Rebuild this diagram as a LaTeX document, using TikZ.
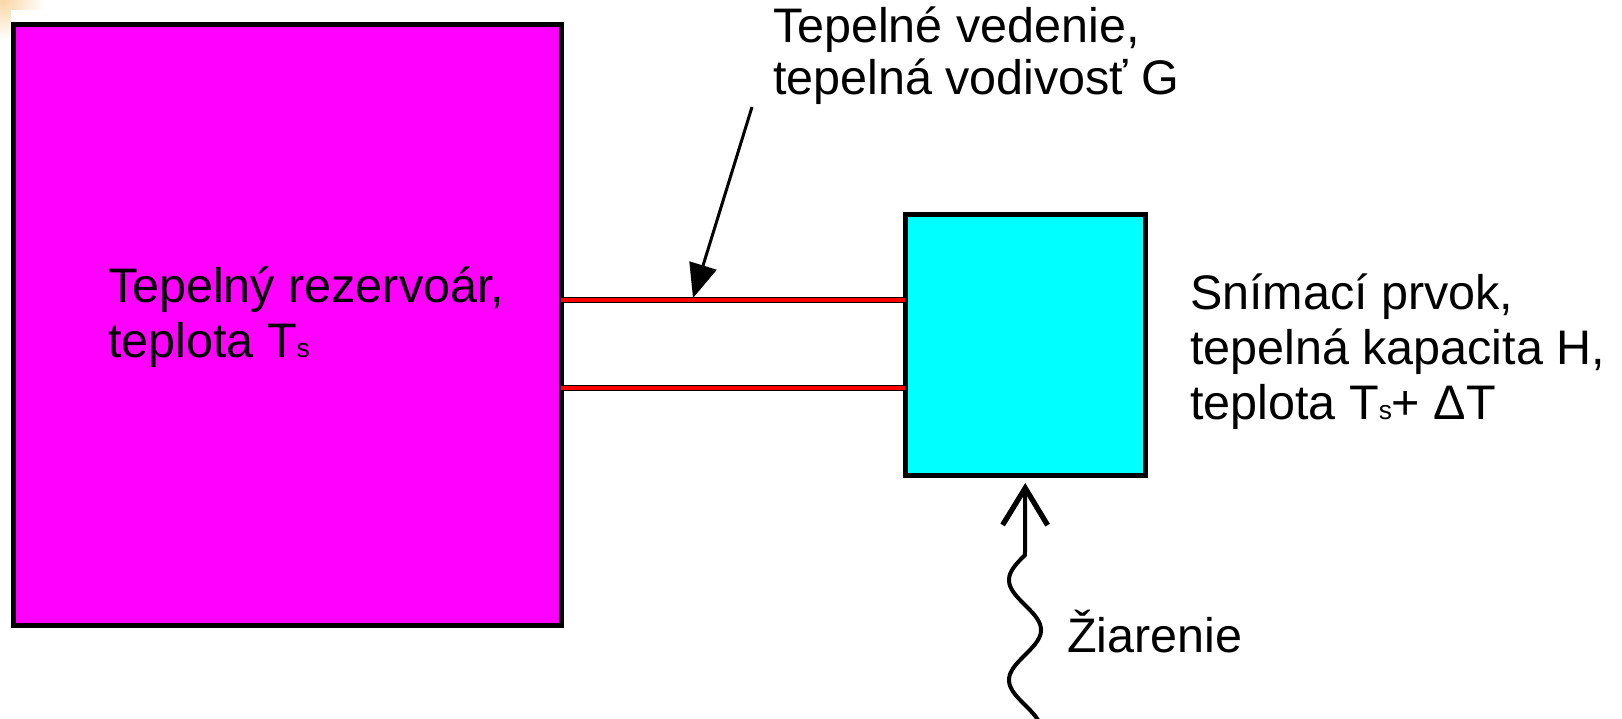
\documentclass[tikz,border=0pt]{standalone}
\usepackage{fontspec}
\setmainfont{Liberation Sans}
\usetikzlibrary{arrows.meta}
\definecolor{resmag}{RGB}{255,0,255}
\definecolor{sencyan}{RGB}{0,255,255}
\definecolor{rodred}{RGB}{255,0,0}
\definecolor{cornerorange}{RGB}{250,215,165}
\newcommand{\smallsub}[1]{{\fontsize{7.5}{7.5}\selectfont #1}}
\tikzset{
  boxstyle/.style={draw=black, line width=0.5mm, inner sep=0pt, outer sep=0pt},
  lbl/.style={inner sep=0pt, outer sep=0pt, align=left, anchor=base west, font=\fontsize{13.8}{15.65}\selectfont},
  rodline/.style={preaction={draw=black, line width=0.55mm}, draw=rodred, line width=0.4mm},
  ptr/.style={draw=black, line width=0.3mm, -{Triangle[length=3.4mm, width=2.8mm]}},
  rad/.style={draw=black, line width=0.4mm, -{Straight Barb[length=3.7mm, width=4.5mm, line width=1.5pt]}}
}
\begin{document}
\begin{tikzpicture}[x=0.1mm, y=-0.1mm]
\useasboundingbox (0,0) rectangle (1622,719);
% background corner
\fill[white] (0,0) rectangle (1622,719);
\shade[inner color=cornerorange, outer color=white] (-40,-40) rectangle (45,40);
\fill[white] (11,10) rectangle (1622,719);

% boxes
\node[boxstyle, fill=resmag, minimum width=54.8mm, minimum height=60mm] (res) at (287,325) {};
\node[boxstyle, fill=sencyan, minimum width=24.05mm, minimum height=26.1mm] (sen) at (1025.25,345.5) {};

% rods
\coordinate (l1) at (0,300);
\coordinate (l2) at (0,388);
\draw[rodline] (res.east |- l1) -- (sen.west |- l1);
\draw[rodline] (res.east |- l2) -- (sen.west |- l2);

% labels (anchored at the baseline of the last line)
\node[lbl, font=\fontsize{13.8}{15.9}\selectfont] (reslbl) at (108,358) {Tepelný rezervoár,\\teplota T\smallsub{s}};
\node[lbl, font=\fontsize{13.8}{14.8}\selectfont] (condlbl) at (773,95) {Tepelné vedenie,\\tepelná vodivosť G};
\node[lbl] (senlbl) at (1190,420) {Snímací prvok,\\tepelná kapacita H,\\teplota T\smallsub{s}+ ΔT};
\node[lbl] (radlbl) at (1067,652) {Žiarenie};

% pointer to the rod
\coordinate (ptail) at (752,107);
\coordinate (ptip) at (693,298);
\draw[ptr] (ptail) -- (ptip);

% radiation
\draw[rad] plot[variable=\t, domain=3.7:0, samples=90] ({1025-16*sin(180*\t)},{555+50*\t}) -- ([yshift=-0.7mm]sen.south);
\end{tikzpicture}
\end{document}
